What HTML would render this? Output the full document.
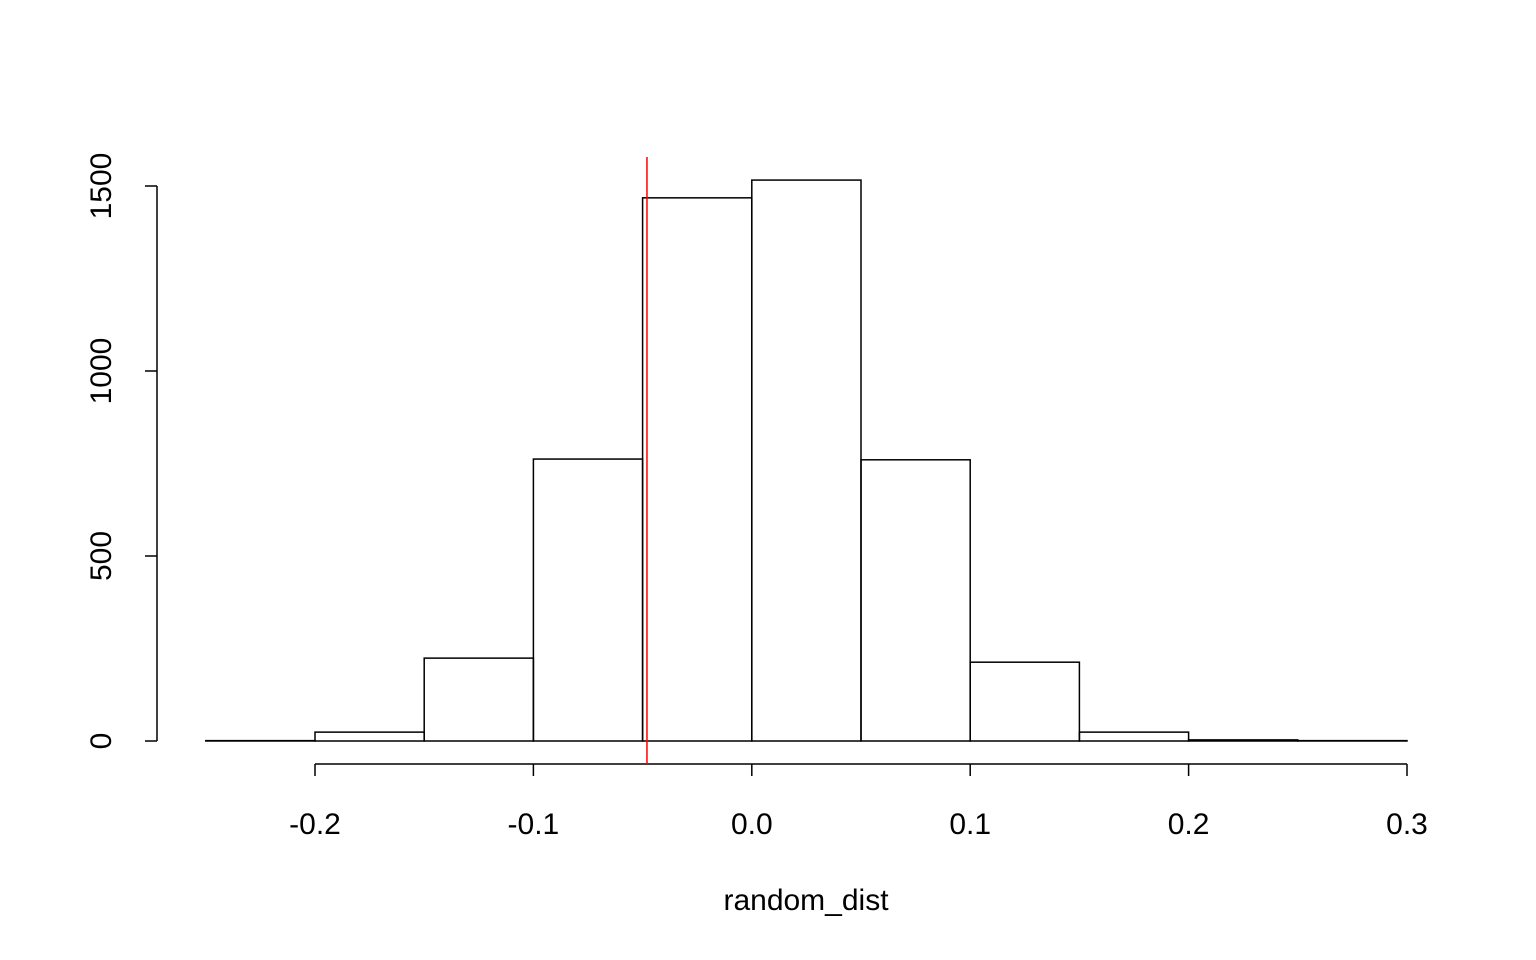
<!DOCTYPE html>
<html><head><meta charset="utf-8"><style>
html,body{margin:0;padding:0;background:#fff;}
svg{display:block;font-family:"Liberation Sans",Arial,sans-serif;}
</style></head><body>
<svg id="chart" width="1536" height="960" viewBox="0 0 1536 960"></svg>
<script>
const binStarts = [-0.25,-0.2,-0.15,-0.1,-0.05,0,0.05,0.1,0.15,0.2,0.25];
const binWidth = 0.05;
const counts = [1,24,224,762,1468,1516,760,213,24,3,1];
const xTicks = [-0.2,-0.1,0.0,0.1,0.2,0.3];
const xTickLabels = ["-0.2","-0.1","0.0","0.1","0.2","0.3"];
const yTicks = [0,500,1000,1500];
const yTickLabels = ["0","500","1000","1500"];
const refValue = [-0.048];

const NS="http://www.w3.org/2000/svg";
const svg=document.getElementById('chart');
function X(v){return 751.8+v*2184;}
function Y(v){return 741-v*0.37;}
function mk(tag,attrs,parent){const e=document.createElementNS(NS,tag);for(const k in attrs)e.setAttribute(k,attrs[k]);(parent||svg).appendChild(e);return e;}

const bars=mk('g',{});


binStarts.forEach((b,i)=>{
  const x0=X(b),x1=X(b+binWidth),y=Y(counts[i]);
  const r=mk('rect',{x:x0,y:y,width:x1-x0,height:741-y,fill:'none',stroke:'#000','stroke-width':1.5},bars);
  
  
});

const ya=mk('g',{});


mk('line',{x1:157,x2:157,y1:Y(yTicks[0]),y2:Y(yTicks[yTicks.length-1]),stroke:'#000','stroke-width':1.5},ya);
yTicks.forEach((t,i)=>{
  const y=Y(t);
  mk('line',{x1:145,x2:157,y1:y,y2:y,stroke:'#000','stroke-width':1.5},ya);
  const tx=mk('text',{x:111,y:y,'font-size':30,'text-anchor':'middle',transform:`rotate(-90 111 ${y})`},ya);
  tx.textContent=yTickLabels[i];
  
  
});

const xa=mk('g',{});


mk('line',{x1:X(xTicks[0]),x2:X(xTicks[xTicks.length-1]),y1:764,y2:764,stroke:'#000','stroke-width':1.5},xa);
xTicks.forEach((t,i)=>{
  const x=X(t);
  mk('line',{x1:x,x2:x,y1:764,y2:776,stroke:'#000','stroke-width':1.5},xa);
  const tx=mk('text',{x:x,y:834,'font-size':30,'text-anchor':'middle'},xa);
  tx.textContent=xTickLabels[i];
  
  
});

const xl=mk('text',{x:806,y:910,'font-size':30,'text-anchor':'middle'});
xl.textContent='random_dist';



refValue.forEach(v=>{
  const l=mk('line',{x1:X(v),x2:X(v),y1:157,y2:764,stroke:'#ff0000','stroke-width':1.5});
  
  
});
</script>
</body></html>
